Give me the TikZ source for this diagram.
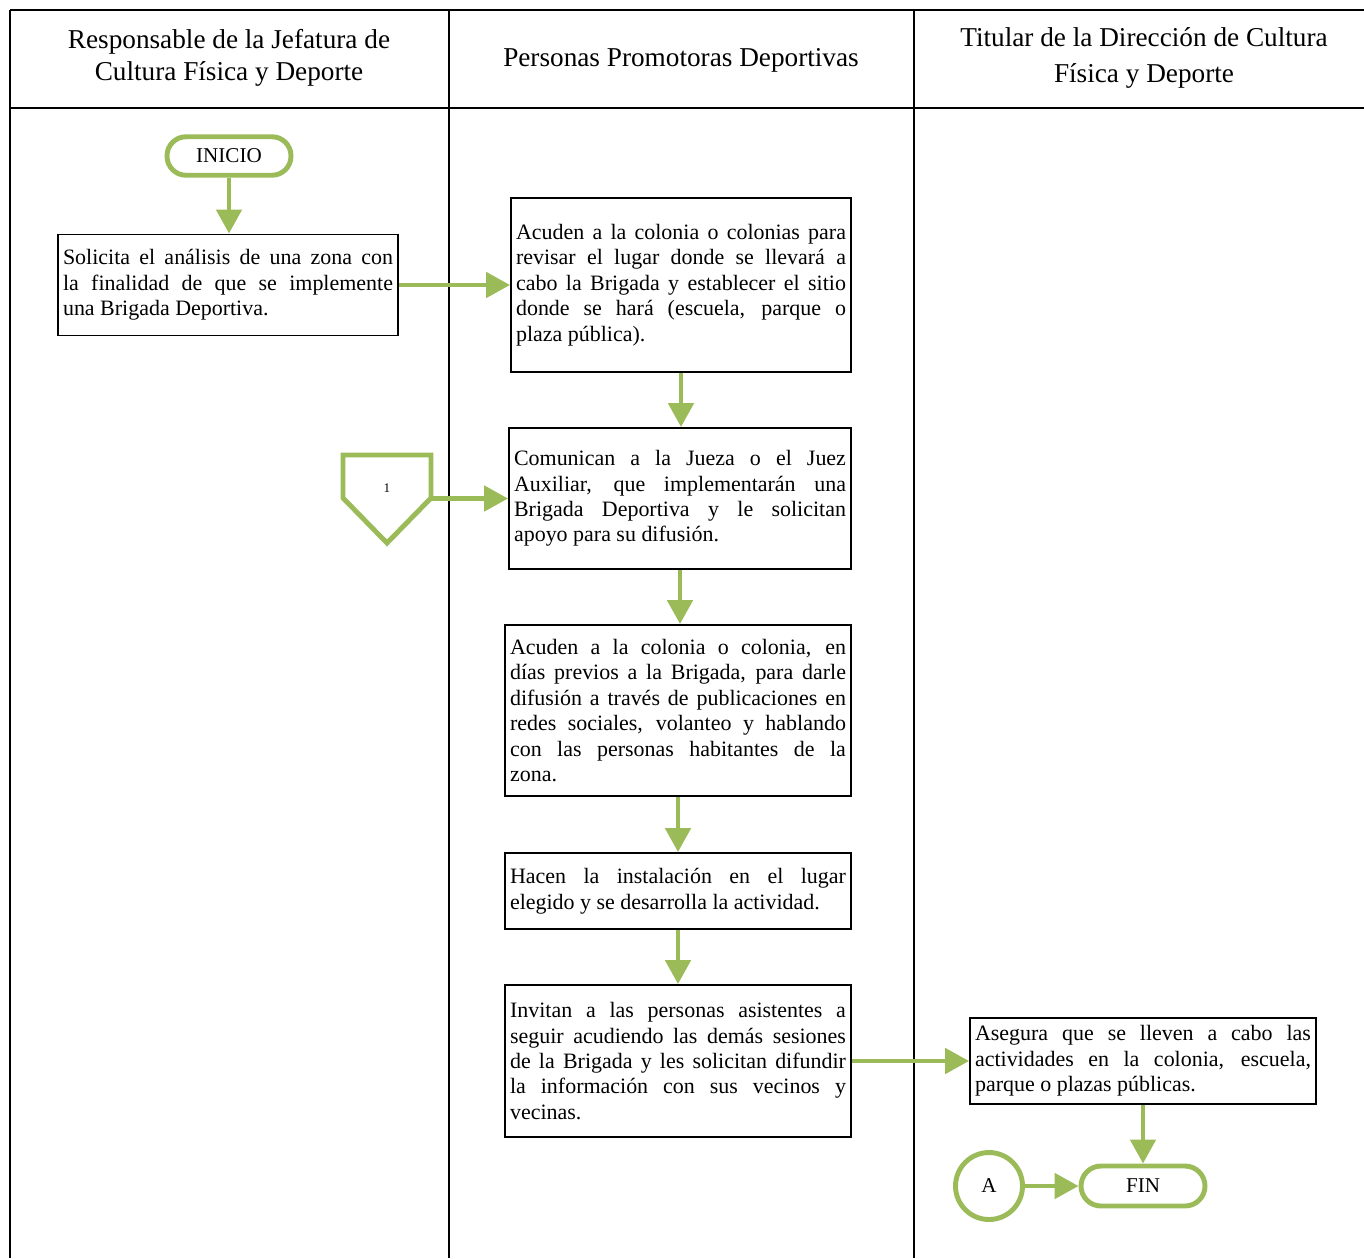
\documentclass[tikz,border=0pt]{standalone}
\usepackage{fontspec}
\setmainfont{Liberation Serif}
\usetikzlibrary{arrows.meta}
\definecolor{verde}{RGB}{155,187,89}

\begin{document}
\begin{tikzpicture}[x=0.02cm, y=-0.02cm,
        caja/.style={rectangle, draw, line width=1.1pt, inner sep=0.1cm, align=justify, font=\fontsize{12.5}{14.5}\selectfont},
        terminal/.style={rectangle, draw=verde, line width=2.8pt, rounded corners=0.38cm, minimum width=2.48cm, minimum height=0.77cm, font=\fontsize{12}{14}\selectfont},
        flecha/.style={draw=verde, line width=2.8pt, -{Triangle[width=0.5cm, length=0.48cm]}},
        titulo/.style={align=center, font=\fontsize{15.5}{18}\selectfont}]
        \useasboundingbox (0,0) rectangle (1364,1258);

        \draw[line width=1.2pt] (10,10) -- (1364,10);
        \draw[line width=1.2pt] (10,108) -- (1364,108);
        \draw[line width=1.2pt] (10,10) -- (10,1258);
        \draw[line width=1.2pt] (449,10) -- (449,1258);
        \draw[line width=1.2pt] (914,10) -- (914,1258);

        \node[titulo] (t1) at (229,58) {Responsable de la Jefatura de\\Cultura Física y Deporte};
        \node[titulo] (t2) at (681,60) {Personas Promotoras Deportivas};
        \node[titulo] (t3) at (1144,58) {Titular de la Dirección de Cultura\\[3pt]Física y Deporte};

        \node[terminal] (inicio) at (229,156) {INICIO};
        \node[caja, text width=6.6cm, minimum height=2.02cm] (b1) at (228,285) {Solicita el análisis de una zona con\linebreak la finalidad de que se implemente\linebreak una Brigada Deportiva.};
        \node[caja, text width=6.6cm, minimum height=3.48cm] (b2) at (681,285) {Acuden a la colonia o colonias para\linebreak revisar el lugar donde se llevará a\linebreak cabo la Brigada y establecer el sitio\linebreak donde se hará (escuela, parque o\linebreak plaza pública).};
        \node[caja, text width=6.64cm, minimum height=2.82cm] (b3) at (680,498.5) {Comunican a la Jueza o el Juez\linebreak Auxiliar, que implementarán una\linebreak Brigada Deportiva y le solicitan\linebreak apoyo para su difusión.};
        \node[caja, text width=6.72cm, minimum height=3.42cm] (b4) at (678,710.5) {Acuden a la colonia o colonia, en\linebreak días previos a la Brigada, para darle\linebreak difusión a través de publicaciones en\linebreak redes sociales, volanteo y hablando\linebreak con las personas habitantes de la\linebreak zona.};
        \node[caja, text width=6.72cm, minimum height=1.52cm] (b5) at (678,891) {Hacen la instalación en el lugar\linebreak elegido y se desarrolla la actividad.};
        \node[caja, text width=6.72cm, minimum height=3.04cm] (b6) at (678,1061) {Invitan a las personas asistentes a\linebreak seguir acudiendo las demás sesiones\linebreak de la Brigada y les solicitan difundir\linebreak la información con sus vecinos y\linebreak vecinas.};
        \node[caja, text width=6.72cm, minimum height=1.72cm] (b7) at (1143,1061) {Asegura que se lleven a cabo las\linebreak actividades en la colonia, escuela,\linebreak parque o plazas públicas.};
        \node[terminal, minimum height=0.8cm, rounded corners=0.4cm] (fin) at (1143,1186) {FIN};
        \node[circle, draw=verde, line width=2.8pt, minimum size=1.34cm, font=\fontsize{12}{14}\selectfont] (a) at (989,1186) {A};

        \draw[verde, line width=2.8pt, line join=miter] (343,455) -- (431,455) -- (431,498) -- (387,543) -- (343,498) -- cycle;
        \node[font=\fontsize{7.5}{9}\selectfont] (uno) at (387,488) {1};
        \coordinate (c1) at (431,498.5);

        \draw[flecha] (inicio.south) -- (inicio.south |- b1.north);
        \draw[flecha] (b1.east) -- (b2.west);
        \draw[flecha] (b2.south) -- (b2.south |- b3.north);
        \draw[flecha] (c1) -- (b3.west);
        \draw[flecha] (b3.south) -- (b3.south |- b4.north);
        \draw[flecha] (b4.south) -- (b5.north);
        \draw[flecha] (b5.south) -- (b6.north);
        \draw[flecha] (b6.east) -- (b7.west);
        \draw[flecha] (b7.south) -- (fin.north);
        \draw[flecha] (a.east) -- (fin.west);

    \end{tikzpicture}
\end{document}
